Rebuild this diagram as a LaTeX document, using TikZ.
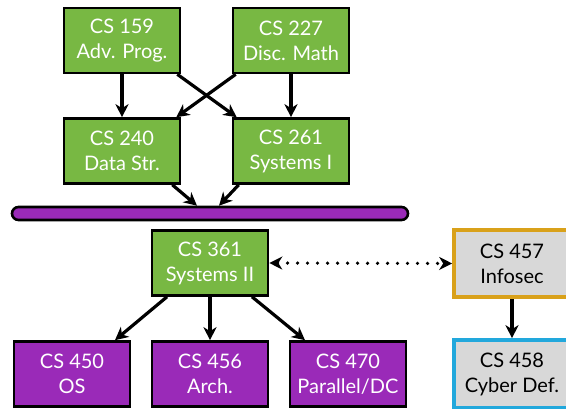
\documentclass[tikz,border=0pt]{standalone}
\usepackage{fontspec}
\setmainfont{Lato}
\usetikzlibrary{arrows.meta}
\definecolor{cgreen}{HTML}{78B843}
\definecolor{cpurple}{HTML}{9A2AB8}
\definecolor{cgray}{HTML}{D8D8D8}
\definecolor{corange}{HTML}{D9A11A}
\definecolor{cblue}{HTML}{22A8DC}
\begin{document}
\begin{tikzpicture}[x=1pt,y=-1pt,
  course/.style={draw=black,line width=2.6pt,minimum width=116pt,minimum height=65pt,
    inner sep=0pt,align=center,font=\fontsize{20}{25}\selectfont,text=white},
  greenbox/.style={course,fill=cgreen},
  purplebox/.style={course,fill=cpurple},
  infobox/.style={course,fill=cgray,text=black,line width=3.6pt},
  tip/.tip={Stealth[length=13pt,width=13pt,inset=4pt]},
  arr/.style={line width=3.2pt,-tip},
  darr/.style={line width=3.6pt,line cap=round,dash pattern=on 0pt off 10pt,tip-tip}]
\useasboundingbox (0,0) rectangle (566,409);
\node[greenbox] (c159) at (122,40.5) {CS 159\\Adv. Prog.};
\node[greenbox] (c227) at (291,40.5) {CS 227\\Disc. Math};
\node[greenbox] (c240) at (122,151) {CS 240\\Data Str.};
\node[greenbox] (c261) at (291,151) {CS 261\\Systems I};
\node[draw=black,line width=2.6pt,fill=cpurple,rounded corners=6.5pt,minimum width=396pt,
  minimum height=13pt,inner sep=0pt] (bar) at (210,213.5) {};
\node[greenbox] (c361) at (210,263) {CS 361\\Systems II};
\node[purplebox] (c450) at (72,374) {CS 450\\OS};
\node[purplebox] (c456) at (210,374) {CS 456\\Arch.};
\node[purplebox] (c470) at (348,374) {CS 470\\Parallel/DC};
\node[infobox,draw=corange,minimum height=67pt] (c457) at (512,263.5) {CS 457\\Infosec};
\node[infobox,draw=cblue,minimum height=68pt] (c458) at (512,374) {CS 458\\Cyber Def.};
\draw[arr] (c159.south) -- (c240.north);
\draw[arr] (c227.south) -- (c261.north);
\draw[arr] ([xshift=-4pt]c159.south east) -- ([xshift=5pt]c261.north west);
\draw[arr] ([xshift=4pt]c227.south west) -- ([xshift=-5pt]c240.north east);
\coordinate (b1) at ([xshift=-13pt]bar.north);
\coordinate (b2) at ([xshift=9pt]bar.north);
\draw[arr] ([xshift=-9pt]c240.south east) -- (b1);
\draw[arr] ([xshift=7pt]c261.south west) -- (b2);
\draw[arr] ([xshift=-43pt]c361.south) -- ([xshift=43pt]c450.north);
\draw[arr] (c361.south) -- (c456.north);
\draw[arr] ([xshift=42pt]c361.south) -- ([xshift=-43pt]c470.north);
\draw[arr] (c457.south) -- (c458.north);
\draw[darr] (c361.east) -- (c457.west);
\end{tikzpicture}
\end{document}
